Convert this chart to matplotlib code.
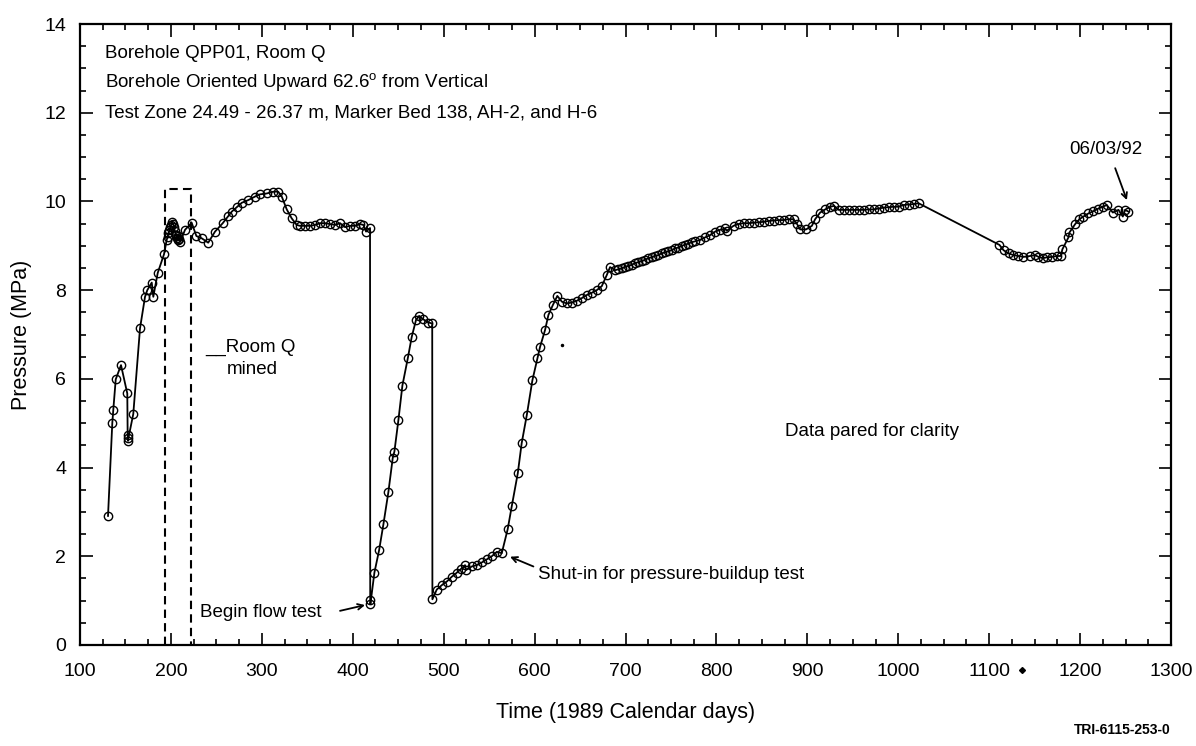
import matplotlib
matplotlib.use('Agg')
import matplotlib.pyplot as plt
from matplotlib.ticker import MultipleLocator
import numpy as np

plt.rcParams['font.family'] = ['Liberation Sans', 'DejaVu Sans']
plt.rcParams['mathtext.fontset'] = 'custom'
plt.rcParams['mathtext.rm'] = 'Liberation Sans'

# Early record, up to the start of the flow test (days, MPa)
days_early = [130.8, 135.5, 136.6, 139.3, 145.1, 152.0, 152.4, 152.8, 153.2, 158.6, 166.0, 171.5, 174.0, 178.9, 180.6, 185.5, 192.4,
              195.3, 196.3, 197.3, 198.3, 199.3, 200.3, 201.3, 202.3, 203.3, 204.3, 205.3, 206.3, 207.3, 208.3, 209.3, 210.2,
              215.5, 222.8, 228.0, 233.8, 241.0, 248.5, 257.0, 263.0, 266.9, 272.4, 277.9, 285.0, 292.5, 298.0, 305.4, 312.7,
              318.0, 321.9, 327.4, 332.8, 338.3,
              342.0, 347.5, 353.0, 358.5, 364.0, 369.5, 375.0, 380.5, 386.0, 391.5, 397.0, 402.5, 408.0, 411.7, 414.6, 419.0]
p_early = [2.91, 5.00, 5.30, 5.99, 6.31, 5.67, 4.74, 4.60, 4.66, 5.21, 7.14, 7.85, 8.00, 8.17, 7.85, 8.39, 8.81,
           9.13, 9.20, 9.28, 9.35, 9.42, 9.48, 9.54, 9.50, 9.42, 9.33, 9.25, 9.18, 9.12, 9.22, 9.15, 9.09,
           9.36, 9.52, 9.22, 9.17, 9.07, 9.32, 9.51, 9.67, 9.77, 9.87, 9.97, 10.03, 10.11, 10.16, 10.18, 10.22,
           10.22, 10.11, 9.82, 9.62, 9.47,
           9.45, 9.45, 9.45, 9.47, 9.51, 9.51, 9.49, 9.47, 9.51, 9.42, 9.45, 9.45, 9.49, 9.47, 9.32, 9.40]

# Flow test, shut-in and pressure buildup
days_flow = [419.2, 419.4, 423.8, 429.0, 433.7, 439.2, 444.0, 445.8, 450.2, 454.6, 460.5, 464.9, 469.6, 473.0, 477.7, 483.2, 487.4,
             487.6, 492.4, 498.0, 503.4, 509.0, 514.4, 518.8, 523.5, 524.6, 530.9, 536.4, 541.9, 547.4, 552.9, 558.4, 563.9,
             570.4, 574.9, 581.5, 585.8, 591.4, 597.6, 603.1, 606.0, 611.5, 615.2, 620.0, 625.0, 630.0, 635.4, 640.9, 646.4,
             651.9, 657.4, 662.9, 668.4, 673.9, 679.4, 683.0, 688.6]
p_flow = [1.02, 0.92, 1.63, 2.14, 2.72, 3.45, 4.22, 4.36, 5.07, 5.85, 6.46, 6.95, 7.33, 7.42, 7.34, 7.27, 7.25,
          1.03, 1.25, 1.35, 1.43, 1.54, 1.63, 1.71, 1.80, 1.69, 1.77, 1.80, 1.86, 1.93, 2.00, 2.10, 2.07,
          2.61, 3.13, 3.87, 4.55, 5.18, 5.97, 6.46, 6.72, 7.10, 7.44, 7.66, 7.87, 7.74, 7.70, 7.72, 7.76,
          7.82, 7.89, 7.94, 8.00, 8.09, 8.34, 8.52, 8.45]

# Slow recovery
days_recovery = [692.0, 695.7, 699.4, 703.0, 706.7, 710.4, 714.0, 717.7, 721.4, 725.0, 728.7, 732.4, 736.0, 739.7, 743.4, 747.0,
                 750.7, 754.4, 758.0, 761.7, 765.4, 769.0, 772.7, 776.4,
                 782.0, 787.6, 793.1, 798.6, 804.1, 809.6, 811.4, 818.8, 824.3, 829.8, 835.3, 840.8, 846.3, 851.8, 857.3, 862.8,
                 868.3, 873.8, 879.3, 884.8,
                 888.4, 892.1, 898.7, 905.0, 908.6, 914.1, 919.6, 925.1, 929.5, 934.3, 939.8, 945.3, 950.8, 956.3, 961.8, 967.3,
                 972.8, 978.3, 983.8, 989.3, 994.8, 1000.3, 1005.8, 1011.3, 1016.8, 1022.3]
p_recovery = [8.47, 8.49, 8.52, 8.55, 8.57, 8.61, 8.63, 8.66, 8.68, 8.72, 8.74, 8.77, 8.79, 8.83, 8.85, 8.88,
              8.90, 8.94, 8.96, 9.00, 9.02, 9.05, 9.08, 9.10,
              9.13, 9.19, 9.24, 9.32, 9.36, 9.39, 9.34, 9.45, 9.49, 9.51, 9.51, 9.52, 9.53, 9.54, 9.56, 9.57,
              9.58, 9.58, 9.60, 9.60,
              9.50, 9.37, 9.37, 9.45, 9.60, 9.75, 9.82, 9.88, 9.90, 9.81, 9.81, 9.81, 9.81, 9.81, 9.81, 9.82,
              9.82, 9.84, 9.86, 9.87, 9.88, 9.88, 9.92, 9.93, 9.94, 9.96]

# Late record up to 06/03/92
days_late = [1111.3, 1115.8, 1121.3, 1126.7, 1132.2, 1137.7, 1145.0, 1150.5, 1154.2, 1159.0, 1163.4, 1168.9, 1174.4, 1178.8,
             1180.5, 1187.2, 1188.3, 1194.6, 1199.3, 1203.7, 1209.2, 1214.5, 1220.2, 1225.0, 1229.3, 1236.0, 1242.2, 1247.0,
             1249.5, 1253.2]
p_late = [9.02, 8.90, 8.83, 8.79, 8.77, 8.75, 8.77, 8.79, 8.75, 8.72, 8.74, 8.75, 8.77, 8.77,
          8.92, 9.19, 9.30, 9.49, 9.60, 9.66, 9.73, 9.78, 9.84, 9.88, 9.92, 9.75, 9.81, 9.66,
          9.81, 9.77]

# Room Q mining window (days) and top of the dashed box (MPa)
mining_window = [193.5, 222.0]
mining_box_top = 10.27

header_lines = ['Borehole QPP01, Room Q',
                r'Borehole Oriented Upward 62.6$^\mathrm{o}$ from Vertical',
                'Test Zone 24.49 - 26.37 m, Marker Bed 138, AH-2, and H-6']

days = np.concatenate([days_early, days_flow, days_recovery, days_late])
pressure = np.concatenate([p_early, p_flow, p_recovery, p_late])

fig = plt.figure(figsize=(11.96, 7.46), dpi=100)
ax = fig.add_axes([0.0669, 0.1354, 0.9122, 0.8324])

# the data
ax.plot(days, pressure, '-', color='black', lw=1.3, marker='o', ms=6,
        mfc='none', mec='black', mew=1.0)
# small specks in the scan
ax.plot([630], [6.76], 'k.', ms=3)
ax.plot([1136], [-0.56], 'kD', ms=3, clip_on=False)

# dashed box marking when Room Q was mined
x0, x1 = mining_window
ax.plot([x0, x0, x1, x1], [0, mining_box_top, mining_box_top, 0], color='black',
        lw=1.5, ls=(0, (4, 2.5)))

ax.set_xlim(100, 1300)
ax.set_ylim(0, 14)
ax.xaxis.set_major_locator(MultipleLocator(100))
ax.xaxis.set_minor_locator(MultipleLocator(25))
ax.yaxis.set_major_locator(MultipleLocator(2))
ax.yaxis.set_minor_locator(MultipleLocator(0.5))
ax.tick_params(which='both', direction='in', top=True, right=True, width=1.2)
ax.tick_params(which='major', length=9, labelsize=14)
ax.tick_params(axis='x', which='major', pad=13)
ax.tick_params(axis='y', which='major', pad=10)
ax.tick_params(which='minor', length=4.5)
for s in ax.spines.values():
    s.set_linewidth(1.6)

ax.set_xlabel('Time (1989 Calendar days)', fontsize=15.5, labelpad=16)
ax.set_ylabel('Pressure (MPa)', fontsize=15.5, labelpad=9)

# text annotations
for y, line in zip([13.23, 12.56, 11.89], header_lines):
    ax.text(127, y, line, fontsize=13.5, ha='left', va='baseline')

ax.text(237.5, 6.62, '__Room Q', fontsize=13.5, ha='left', va='baseline')
ax.text(261.7, 6.12, 'mined', fontsize=13.5, ha='left', va='baseline')
ax.text(875.6, 4.72, 'Data pared for clarity', fontsize=13.5, ha='left', va='baseline')
ax.text(232, 0.64, 'Begin flow test', fontsize=13.5, ha='left', va='baseline')
ax.text(603.9, 1.48, 'Shut-in for pressure-buildup test', fontsize=13.5, ha='left', va='baseline')
ax.text(1228.7, 11.07, '06/03/92', fontsize=13.5, ha='center', va='baseline')

arrow = dict(arrowstyle='->', lw=1.3, color='black', shrinkA=0, shrinkB=0)
ax.annotate('', xy=(413.5, 0.90), xytext=(386, 0.77), arrowprops=arrow)
ax.annotate('', xy=(573, 1.99), xytext=(598.7, 1.77), arrowprops=arrow)
ax.annotate('', xy=(1251.5, 10.03), xytext=(1238.6, 10.75), arrowprops=arrow)

fig.text(0.979, 0.012, 'TRI-6115-253-0', fontsize=10, fontweight='bold', ha='right', va='bottom')

plt.savefig('out.png', dpi=100)
